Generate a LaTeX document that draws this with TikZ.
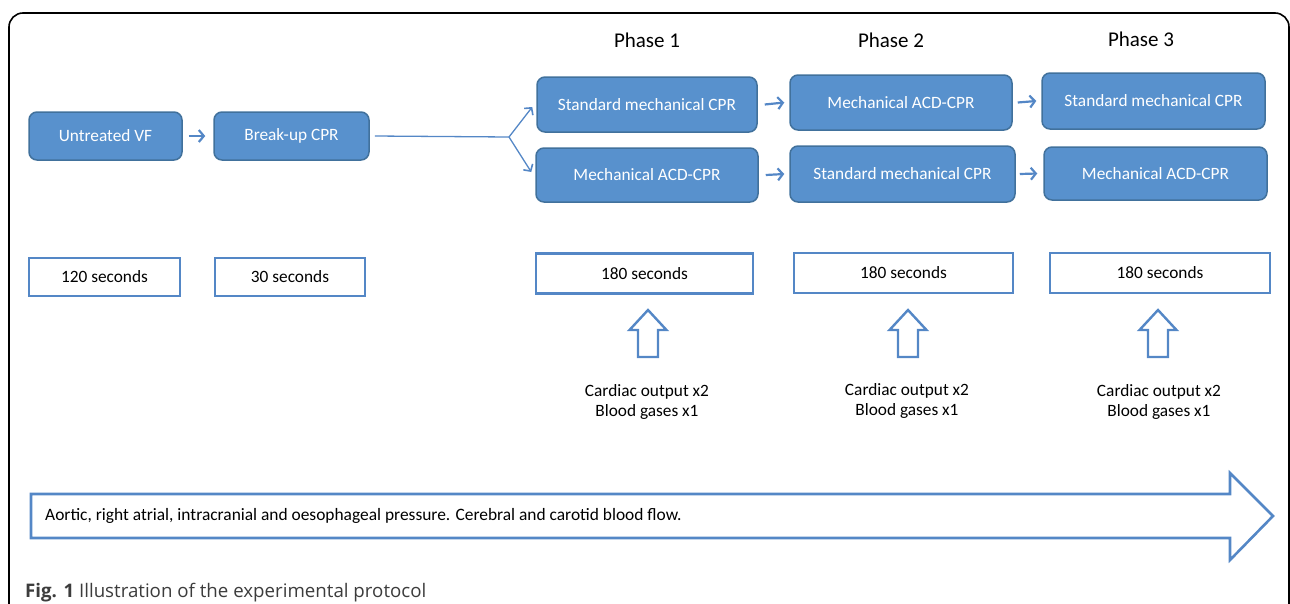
\documentclass[tikz,border=0pt]{standalone}
\usepackage{fontspec}
\setmainfont{Carlito}
\newfontfamily\capfont{Open Sans}
\usetikzlibrary{arrows.meta}

\definecolor{boxfill}{RGB}{88,145,205}
\definecolor{boxline}{RGB}{65,113,156}
\definecolor{lineblue}{RGB}{84,135,198}
\definecolor{capgray}{RGB}{60,60,60}

\begin{document}
\begin{tikzpicture}[x=1pt, y=-1pt,
    phase/.style={rounded corners=8pt, draw=boxline, fill=boxfill, line width=1.5pt, text=white, font=\fontsize{17.3}{20}\selectfont, inner sep=0pt},
    timebox/.style={draw=lineblue, line width=2.4pt, fill=white, font=\fontsize{17.3}{20}\selectfont, inner sep=0pt},
    step arrow/.style={draw=lineblue, line width=2.2pt, -{Straight Barb[length=5pt, width=12pt, line width=2.2pt]}},
    hollow/.style={draw=lineblue, line width=2.4pt, line join=miter},
    note/.style={align=center, font=\fontsize{17.3}{20.5}\selectfont, inner sep=0pt}]
  \useasboundingbox (0,0) rectangle (1290,603);
  \clip (0,0) rectangle (1290,603);

  % frame
  \draw[line width=1.6pt, rounded corners=14pt] (9,660) -- (9,13) -- (1289,13) -- (1289,660);

  % headings
  \node[font=\fontsize{21}{24}\selectfont] (ph1) at (647,40) {Phase 1};
  \node[font=\fontsize{21}{24}\selectfont] (ph2) at (891,40) {Phase 2};
  \node[font=\fontsize{21}{24}\selectfont] (ph3) at (1141,39) {Phase 3};

  % protocol boxes
  \node[phase, minimum width=153, minimum height=48] (vf) at (105.5,136) {Untreated VF};
  \node[phase, minimum width=155, minimum height=48] (brk) at (291.5,136) {Break-up CPR};

  \node[phase, minimum width=220, minimum height=55] (p1a) at (647,104.5) {Standard mechanical CPR};
  \node[phase, minimum width=222, minimum height=54] (p1b) at (647,175) {Mechanical ACD-CPR};
  \node[phase, minimum width=222, minimum height=55] (p2a) at (901,102.5) {Mechanical ACD-CPR};
  \node[phase, minimum width=225, minimum height=56] (p2b) at (902.5,174) {Standard mechanical CPR};
  \node[phase, minimum width=223, minimum height=56] (p3a) at (1153.5,101) {Standard mechanical CPR};
  \node[phase, minimum width=223, minimum height=53] (p3b) at (1155.5,173.5) {Mechanical ACD-CPR};

  \draw[step arrow] ([xshift=6pt]vf.east) -- ([xshift=-8pt]brk.west);
  \draw[step arrow] ([xshift=7pt]p1a.east) -- ([xshift=-5pt]p2a.west);
  \draw[step arrow] ([xshift=7pt]p1b.east) -- ([xshift=-5pt]p2b.west);
  \draw[step arrow] ([xshift=5pt]p2a.east) -- ([xshift=-5pt]p3a.west);
  \draw[step arrow] ([xshift=4pt]p2b.east) -- ([xshift=-6pt]p3b.west);

  % split
  \coordinate (split) at (509,137);
  \draw[draw=lineblue, line width=1.3pt] ([xshift=5pt]brk.east) -- (split);
  \draw[draw=lineblue, line width=1.3pt, -{Straight Barb[length=5pt, width=11pt, line width=1.6pt]}] (split) -- ([xshift=-4pt, yshift=-2.5pt]p1a.west);
  \draw[draw=lineblue, line width=1.3pt, -{Straight Barb[length=5pt, width=11pt, line width=1.6pt]}] (split) -- ([xshift=-4pt, yshift=3pt]p1b.west);

  % durations
  \node[timebox, minimum width=151, minimum height=38] (t0) at (104.5,277) {120 seconds};
  \node[timebox, minimum width=150, minimum height=38] (t1) at (290,277) {30 seconds};
  \node[timebox, minimum width=217, minimum height=40] (t2) at (644.5,273.5) {180 seconds};
  \node[timebox, minimum width=219, minimum height=40] (t3) at (903.5,273) {180 seconds};
  \node[timebox, minimum width=220, minimum height=40] (t4) at (1160,273) {180 seconds};

  % sampling
  \foreach \cx in {648,908,1158}
    \draw[hollow] (\cx,310) -- (\cx+18.5,330) -- (\cx+10,330) -- (\cx+10,357) -- (\cx-10,357) -- (\cx-10,330) -- (\cx-18.5,330) -- cycle;

  \node[note] (s1) at (647,402) {Cardiac output x2\\Blood gases x1};
  \node[note] (s2) at (907,401) {Cardiac output x2\\Blood gases x1};
  \node[note] (s3) at (1159,402) {Cardiac output x2\\Blood gases x1};

  % continuous monitoring
  \draw[hollow, line width=2.6pt] (31,494) -- (1230,494) -- (1230,473) -- (1273,516) -- (1230,560) -- (1230,538) -- (31,538) -- cycle;
  \node[anchor=west, inner sep=0pt, font=\fontsize{17.4}{20}\selectfont] (mon) at (45,516) {Aortic, right atrial, intracranial and oesophageal pressure. Cerebral and carotid blood flow.};

  % caption
  \node[anchor=base west, inner sep=0pt, text=capgray, font=\capfont\fontsize{18.7}{22}\selectfont] (cap) at (25,597) {\textbf{Fig. 1} Illustration of the experimental protocol};
\end{tikzpicture}
\end{document}
